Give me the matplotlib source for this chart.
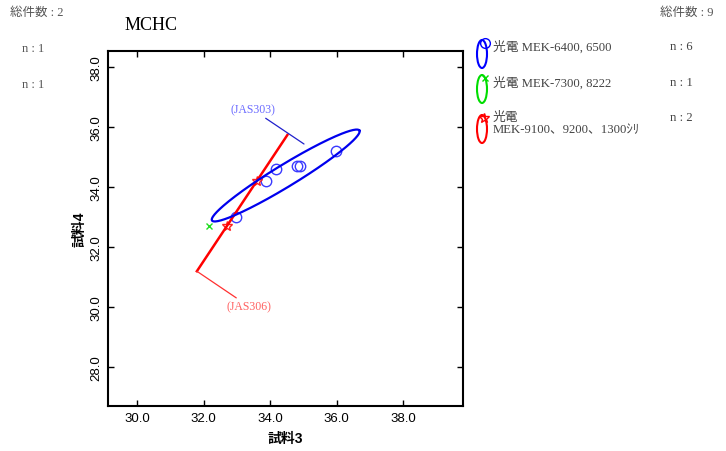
import matplotlib
matplotlib.use("Agg")
import matplotlib.pyplot as plt
from matplotlib.patches import Ellipse
import numpy as np

plt.rcParams['font.family'] = ['Liberation Sans', 'Noto Sans CJK JP']

# --- data ---
blue_x = [32.98, 33.88, 34.18, 34.81, 34.90, 35.98]
blue_y = [33.00, 34.20, 34.60, 34.70, 34.70, 35.20]
green_x = [32.17]
green_y = [32.69]
red_x = [33.62, 32.70]
red_y = [34.21, 32.71]

# regression line for red group
red_line_x = [31.80, 34.52]
red_line_y = [31.19, 35.73]

# blue group ellipse: center, major semi-axis vector, minor semi-axis vector
ell_center = (34.47, 34.38)
ell_major = (2.216, 1.499)
ell_minor = (0.172, -0.313)

x_ticks = [30.0, 32.0, 34.0, 36.0, 38.0]
y_ticks = [28.0, 30.0, 32.0, 34.0, 36.0, 38.0]

legend_labels = ["光電 MEK-6400, 6500", "光電 MEK-7300, 8222", "光電\nMEK-9100、9200、1300ｼﾘ"]
legend_counts = ["n : 6", "n : 1", "n : 2"]
legend_colors = ["#0000ff", "#00dd00", "#ff0000"]
legend_markers = ["o", "x", "*"]

serif_jp = ['Liberation Serif', 'Noto Sans CJK JP']

fig = plt.figure(figsize=(7.26, 4.52), dpi=100)
ax = fig.add_axes([0.1488, 0.0996, 0.4890, 0.7854])

ax.plot(blue_x, blue_y, 'o', mfc='none', mec='#3a3aff', ms=7.5, mew=1.0)
ax.plot(green_x, green_y, 'x', color='#22dd22', ms=4.5, mew=1.0)
ax.plot(red_x, red_y, '*', mfc='none', mec='#ff2020', ms=7, mew=1.0)
ax.plot(red_line_x, red_line_y, color='red', lw=1.8)

t = np.linspace(0, 2 * np.pi, 200)
ex = ell_center[0] + ell_major[0] * np.cos(t) + ell_minor[0] * np.sin(t)
ey = ell_center[1] + ell_major[1] * np.cos(t) + ell_minor[1] * np.sin(t)
ax.plot(ex, ey, color='#0000ee', lw=1.6)

# labels
ax.annotate("(JAS303)", xy=(35.02, 35.43), xytext=(34.15, 36.38),
            color='#6a6aff', fontsize=8.5, family=['Liberation Serif'],
            ha='right', va='bottom',
            arrowprops=dict(arrowstyle='-', color='#2020cc', lw=0.9,
                            shrinkA=0, shrinkB=0))
ax.annotate("(JAS306)", xy=(red_line_x[0], red_line_y[0]), xytext=(32.70, 30.21),
            color='#ff6060', fontsize=8.5, family=['Liberation Serif'],
            ha='left', va='top',
            arrowprops=dict(arrowstyle='-', color='#ff3030', lw=0.9,
                            shrinkA=0, shrinkB=0))

ax.set_xlim(29.13, 39.8)
ax.set_ylim(26.7, 38.53)
ax.set_xticks(x_ticks)
ax.set_yticks(y_ticks)
ax.set_xticklabels([f"{v:.1f}" for v in x_ticks], fontsize=9.5)
ax.set_yticklabels([f"{v:.1f}" for v in y_ticks], fontsize=9.5, rotation=90, va='center')
ax.tick_params(direction='in', length=4, width=1, top=True, right=True, pad=4)
for s in ax.spines.values():
    s.set_linewidth(1.5)

ax.set_xlabel("試料3", fontsize=10, fontweight='bold', labelpad=5)
ax.set_ylabel("試料4", fontsize=10, fontweight='bold', labelpad=3)

fig.text(125 / 726, 1 - 25 / 452, "MCHC", fontsize=13, family=['Liberation Serif'],
         ha='left', va='center')

# header texts
small = dict(fontsize=9, color='#555555', family=serif_jp, va='center')
fig.text(10 / 726, 1 - 13 / 452, "総件数 : 2", ha='left', **small)
fig.text(22 / 726, 1 - 49 / 452, "n : 1", ha='left', **small)
fig.text(22 / 726, 1 - 85 / 452, "n : 1", ha='left', **small)
fig.text(713 / 726, 1 - 13 / 452, "総件数 : 9", ha='right', **small)

# legend on the right, drawn in pixel coordinates
lg = fig.add_axes([0, 0, 1, 1], facecolor='none')
lg.set_xlim(0, 726)
lg.set_ylim(452, 0)
lg.axis('off')
legend_y = [55, 90, 130]
text_y = [47, 83, 112]
for i in range(3):
    yc = legend_y[i]
    c = legend_colors[i]
    lg.add_patch(Ellipse((482, yc), 10, 28, fill=False, ec=c, lw=1.5))
    if legend_markers[i] == 'o':
        lg.plot(485, yc - 11, 'o', mfc='none', mec=c, ms=7, mew=1)
    elif legend_markers[i] == 'x':
        lg.plot(485, yc - 11, 'x', color=c, ms=4, mew=1)
    else:
        lg.plot(484, yc - 11, '*', mfc='none', mec=c, ms=7, mew=1)
    lg.text(493, text_y[i], legend_labels[i], fontsize=9.2, color='#444444',
            family=serif_jp, ha='left', va='top' if i == 2 else 'center',
            linespacing=1.05)
    lg.text(670, text_y[i] if i < 2 else 118, legend_counts[i], fontsize=9.2,
            color='#444444', family=serif_jp, ha='left', va='center')

fig.savefig("out.png", dpi=100)
